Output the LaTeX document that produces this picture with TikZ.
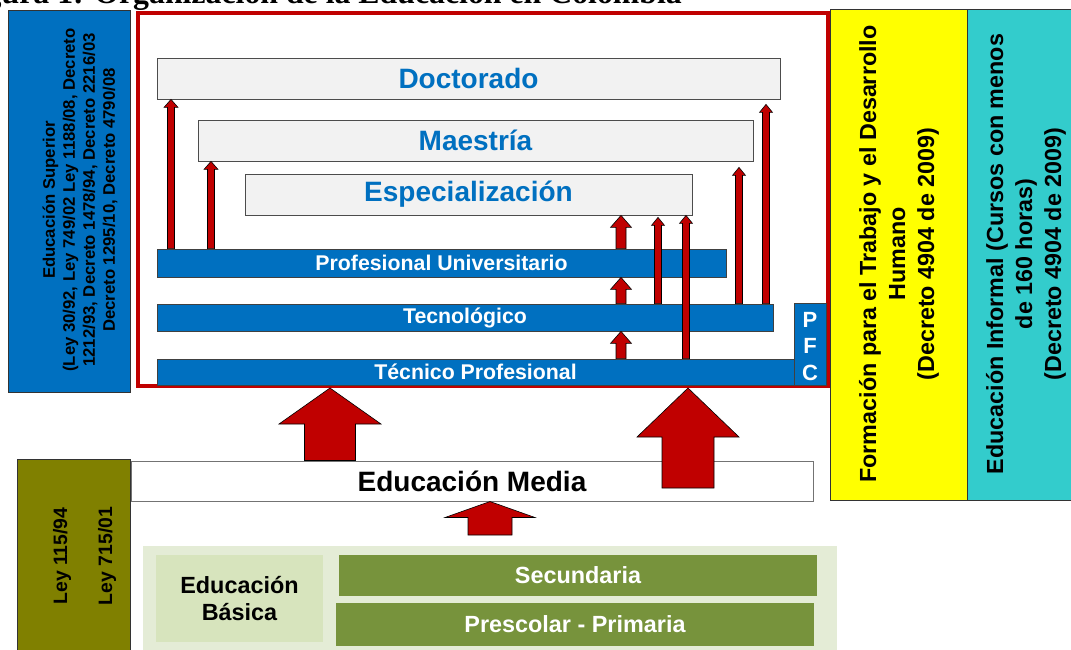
\documentclass[tikz,border=0pt]{standalone}
\usepackage{fontspec}
\setmainfont{Liberation Sans}
\newfontfamily\capfont{Liberation Serif}
\usetikzlibrary{calc}
\definecolor{bblue}{HTML}{0070C0}
\definecolor{arrred}{HTML}{C00000}
\definecolor{yel}{HTML}{FFFF00}
\definecolor{cya}{HTML}{33CCCC}
\definecolor{oli}{HTML}{808000}
\definecolor{grn}{HTML}{77933C}
\definecolor{lgrn}{HTML}{D7E4BD}
\definecolor{bggrn}{HTML}{E4ECD6}
\definecolor{lgray}{HTML}{F2F2F2}
\newcommand\fs[2]{\fontsize{#1}{#2}\selectfont}
\newcommand\bnode[7][]{\node[box,minimum width={#5pt-#3pt},minimum height={#6pt-#4pt},#1] (#2) at ({(#3+#5)/2},{(#4+#6)/2}) {#7};}
% #1 x, #2 start, #3 target, #4 half shaft, #5 half head, #6 head length, #7 gap
\newcommand\uparr[7]{\filldraw[arrowsty] let \p1=(#2), \p2=(#3) in
  ({#1pt-#4pt},\y1) -- ({#1pt-#4pt},{\y2-#7pt-#6pt}) -- ({#1pt-#5pt},{\y2-#7pt-#6pt}) --
  (#1pt,{\y2-#7pt}) -- ({#1pt+#5pt},{\y2-#7pt-#6pt}) -- ({#1pt+#4pt},{\y2-#7pt-#6pt}) --
  ({#1pt+#4pt},\y1) -- cycle;}
\tikzset{
  box/.style={rectangle, inner sep=0pt, align=center},
  lev/.style={draw=black!70, line width=0.8pt, fill=lgray, text=bblue, font=\bfseries\fs{28}{33}},
  bar/.style={draw=black!75, line width=0.8pt, fill=bblue, text=white, font=\bfseries\fs{21.3}{25}},
  side/.style={draw=black!80, line width=1pt},
  rot/.style={rotate=90, align=center, inner sep=0pt},
  arrowsty/.style={fill=arrred, draw=black, line width=0.6pt, line join=miter},
}
\begin{document}
\begin{tikzpicture}[x=1pt,y=-1pt]
\useasboundingbox (0,0) rectangle (1071,649);
\clip (0,0) rectangle (1071,649);
% caption
\node[anchor=base east, inner sep=0pt, font=\capfont\bfseries\fs{31.8}{36}] (cap) at (682,3.5) {Figura 1: Organización de la Educación en Colombia};
% left blue box
\bnode[side, fill=bblue]{sup}{8}{10}{130}{392}{}
\node[rot, font=\bfseries\fs{16.7}{20}] (supt) at (80,200) {Educación Superior\\(Ley 30/92, Ley 749/02 Ley 1188/08, Decreto\\1212/93, Decreto 1478/94, Decreto 2216/03\\Decreto 1295/10, Decreto 4790/08};
% red frame
\bnode[draw=arrred, line width=4pt, fill=white]{redbox}{138}{13}{828}{386}{}
% right boxes
\bnode[side, fill=yel]{ftdh}{830}{9}{967}{500}{}
\bnode[side, fill=cya]{inf}{967}{9}{1078}{500}{}
\node[rot, font=\bfseries\fs{23.3}{29}] (ftdht) at (899,254) {Formación para el Trabajo y el Desarrollo\\Humano\\(Decreto 4904 de 2009)};
\node[rot, font=\bfseries\fs{23.3}{29}] (inft) at (1026,254) {Educación Informal (Cursos con menos\\de 160 horas)\\(Decreto 4904 de 2009)};
% levels
\bnode[lev]{doc}{157}{58}{780}{99}{Doctorado}
\bnode[lev]{mae}{198}{120}{753}{161}{Maestría}
\bnode[lev]{esp}{245}{174}{692}{215}{Especialización}
\bnode[bar]{pu}{157}{249}{726}{277}{Profesional Universitario}
\bnode[bar]{tec}{157}{304}{773}{331}{Tecnológico}
\bnode[bar]{tp}{157}{359}{794}{385}{Técnico Profesional}
\bnode[bar]{pfc}{794}{303}{826}{385}{}
\node[box, text=white, font=\bfseries\fs{22}{26.5}] (pfct) at (810,346.5) {P\\F\\C};
% small arrows
\uparr{171}{pu.north}{doc.south}{3.5}{7}{8}{0}
\uparr{211}{pu.north}{mae.south}{3.5}{7}{8}{0}
\uparr{621}{pu.north}{esp.south}{5}{10.5}{12}{0}
\uparr{621}{tec.north}{pu.south}{5}{10.5}{12}{0}
\uparr{621}{tp.north}{tec.south}{5}{10.5}{12}{0}
\uparr{658}{tec.north}{esp.south}{3.5}{6.5}{8}{2}
\uparr{686}{tp.north}{esp.south}{3.5}{6.5}{8}{0}
\uparr{739}{tec.north}{mae.south}{3.5}{6.5}{8}{6}
\uparr{766}{tec.north}{doc.south}{3.5}{6.5}{8}{5}
% media
\bnode[draw=black!55, line width=1pt, fill=white, font=\bfseries\fs{28}{33}]{media}{131}{461}{813}{501}{Educación Media}
\coordinate (m2) at (688,488);
\coordinate (m3) at (490,535);
\uparr{330}{media.north}{redbox.south}{25.5}{51}{36}{0}
\uparr{688}{m2}{redbox.south}{26}{51}{49}{0}
\uparr{490}{m3}{media.south}{22}{45}{16}{0}
% olive
\bnode[side, fill=oli]{ley}{17}{459}{130}{665}{}
\node[rot, font=\bfseries\fs{19.4}{23}] (ley1) at (62,556) {Ley 115/94};
\node[rot, font=\bfseries\fs{19.4}{23}] (ley2) at (107,556) {Ley 715/01};
% basic
\bnode[fill=bggrn]{bg}{143}{546}{837}{665}{}
\bnode[fill=lgrn, font=\bfseries\fs{23.4}{27}]{bas}{156}{555}{323}{642}{Educación\\Básica}
\bnode[fill=grn, text=white, font=\bfseries\fs{23.4}{27}]{sec}{339}{555}{817}{596}{Secundaria}
\bnode[fill=grn, text=white, font=\bfseries\fs{23.4}{27}]{pre}{336}{603}{814}{646}{Prescolar - Primaria}
\end{tikzpicture}
\end{document}
